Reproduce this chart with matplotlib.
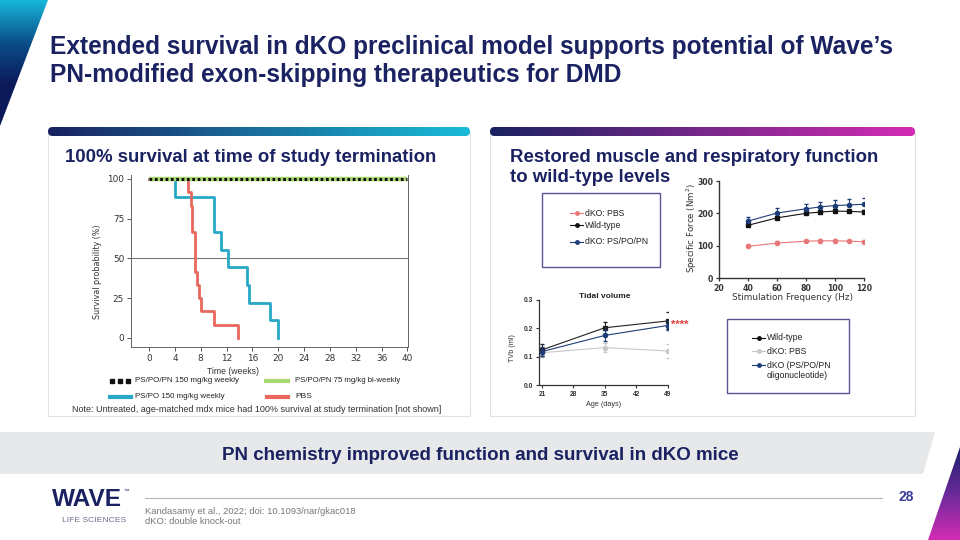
import numpy as np
import matplotlib
matplotlib.use('Agg')
import matplotlib.pyplot as plt
from matplotlib import font_manager as fm
from matplotlib.patches import Polygon, FancyBboxPatch, Rectangle
from matplotlib.colors import LinearSegmentedColormap

# ---------------- data ----------------
# Survival (Kaplan-Meier), time in weeks, survival in %
surv_pn150_t = [0, 40]
surv_pn150_s = [100, 100]
surv_pn75_t = [0, 40]
surv_pn75_s = [100, 100]
surv_pspo_t = [0, 4, 10, 11.2, 12.2, 15.1, 15.5, 18.8, 20]
surv_pspo_s = [100, 88.9, 66.7, 55.6, 44.4, 33.3, 22.2, 11.1, 0]
surv_pbs_t = [0, 6.1, 6.45, 6.7, 7.1, 7.4, 7.7, 8.0, 10.0, 13.8]
surv_pbs_s = [100, 91.7, 83.3, 66.7, 41.7, 33.3, 25.0, 16.7, 8.3, 0]
surv_xticks = list(range(0, 41, 4))
surv_yticks = [0, 25, 50, 75, 100]

# Specific force vs stimulation frequency
freq = [40, 60, 80, 90, 100, 110, 120]
force_pbs = [98, 108, 114, 115, 115, 114, 112]
force_pbs_err = [6, 5, 5, 5, 5, 5, 6]
force_wt = [163, 186, 200, 204, 207, 206, 204]
force_wt_err = [5, 5, 5, 5, 5, 5, 5]
force_pn = [176, 201, 214, 220, 224, 226, 228]
force_pn_err = [14, 14, 15, 15, 16, 17, 18]

# Tidal volume vs age
age = [21, 35, 49]
tv_wt = [0.124, 0.202, 0.226]
tv_wt_err = [0.020, 0.021, 0.030]
tv_pn = [0.118, 0.175, 0.210]
tv_pn_err = [0.015, 0.018, 0.015]
tv_pbs = [0.114, 0.132, 0.120]
tv_pbs_err = [0.015, 0.015, 0.025]

# ---------------- style ----------------
NAVY = '#1b2262'
TEAL = '#27a8c6'
RED = '#e8685e'
GREEN = '#a9d870'
DKNAVY = '#1d3d78'
FRED = '#e8777a'
LGRAY = '#c8c8c8'

def has_font(name):
    try:
        fm.findfont(fm.FontProperties(family=name), fallback_to_default=False)
        return True
    except Exception:
        return False

NARROW = 'Liberation Sans Narrow' if has_font('Liberation Sans Narrow') else 'Liberation Sans'
SANS = 'Liberation Sans'
VERD = 'DejaVu Sans'

W, H = 960, 540
fig = plt.figure(figsize=(9.6, 5.4), dpi=100)
bg = fig.add_axes([0, 0, 1, 1], zorder=0)
bg.axis('off')
renderer = fig.canvas.get_renderer()


def pax(x0, y0, x1, y1):
    a = fig.add_axes([x0 / W, 1 - y1 / H, (x1 - x0) / W, (y1 - y0) / H], zorder=2)
    a.set_facecolor('none')
    return a


def fit(x, y, s, w, ha='left', va='center', **kw):
    t = bg.text(x, y, s, ha=ha, va=va, **kw)
    bb = t.get_window_extent(renderer)
    t.set_fontsize(t.get_fontsize() * w / bb.width)
    return t


def grad_fill(patch, colors, vertical=False, extent=None):
    cmap = LinearSegmentedColormap.from_list('g', colors)
    g = np.linspace(0, 1, 256)
    img = g[:, None] if vertical else g[None, :]
    bg.add_patch(patch)
    patch.set_facecolor('none')
    patch.set_edgecolor('none')
    im = bg.imshow(img, cmap=cmap, extent=extent, origin='upper', aspect='auto', zorder=patch.get_zorder())
    im.set_clip_path(patch)

# decorative corners
grad_fill(Polygon([(0, 0), (48, 0), (0, 126)], closed=True), ['#17b8d9', '#0a4f8a', '#0c1a5a', '#0c1a5a'],
          vertical=True, extent=(0, 48, 126, 0))
grad_fill(Polygon([(960, 447), (928, 540), (960, 540)], closed=True), ['#1b1f6b', '#6a2a9a', '#d42cb4'],
          vertical=True, extent=(928, 960, 540, 447))

# title
ft = fit(50, 47, "Extended survival in dKO preclinical model supports potential of Wave\u2019s", 843,
         family=NARROW, weight='bold', color=NAVY, fontsize=16)
bg.text(50, 75, "PN-modified exon-skipping therapeutics for DMD", ha='left', va='center',
        family=NARROW, weight='bold', color=NAVY, fontsize=ft.get_fontsize())

# cards
for x0, x1, c1 in [(48, 470, '#19bcd9'), (490, 915, '#d42cb4')]:
    bg.add_patch(Rectangle((x0, 132), x1 - x0, 284, facecolor='white', edgecolor='#e2e2e2', lw=0.8, zorder=1))
    bar = FancyBboxPatch((x0, 127), x1 - x0, 9, boxstyle='round,pad=0,rounding_size=4.5', zorder=1.5)
    grad_fill(bar, ['#1a2260', c1], extent=(x0, x1, 136, 127))

# headings
fit(65, 158, "100% survival at time of study termination", 372, family=SANS, weight='bold', color=NAVY, fontsize=12)
hr = fit(510, 158, "Restored muscle and respiratory function", 368, family=SANS, weight='bold', color=NAVY, fontsize=12)
bg.text(510, 177, "to wild-type levels", ha='left', va='center', family=SANS, weight='bold', color=NAVY,
        fontsize=hr.get_fontsize())

# ---------------- survival chart ----------------
ax1 = pax(131, 175, 408, 347)
ax1.plot(surv_pn75_t, surv_pn75_s, color=GREEN, lw=3.2, solid_capstyle='butt', zorder=3)
ax1.plot(surv_pn150_t, surv_pn150_s, color='#111111', lw=2.2, ls=(0, (0.9, 0.85)),
         dash_capstyle='butt', zorder=4)
ax1.step(surv_pspo_t, surv_pspo_s, where='post', color=TEAL, lw=2.0, zorder=2)
ax1.step(surv_pbs_t, surv_pbs_s, where='post', color=RED, lw=2.0, zorder=2)
ax1.axhline(50, color='#7a7a7a', lw=0.8, zorder=1)
ax1.set_xlim(-2.8, 40.1)
ax1.set_ylim(-5.7, 102.5)
ax1.set_xticks(surv_xticks)
ax1.set_yticks(surv_yticks)
ax1.spines['top'].set_visible(False)
for s in ['left', 'bottom', 'right']:
    ax1.spines[s].set_linewidth(0.7)
    ax1.spines[s].set_color('#666666')
ax1.tick_params(length=3, width=0.7, color='#555555', labelsize=6.4, labelcolor='#333333', pad=2)
for lab in ax1.get_xticklabels() + ax1.get_yticklabels():
    lab.set_family(VERD)

bg.text(98, 272, "Survival probability (%)", rotation=90, ha='center', va='center', family=VERD,
        fontsize=5.8, color='#333333')
bg.text(233, 371, "Time (weeks)", ha='center', va='center', family=SANS, fontsize=6.2, color='#333333')

# survival legend
bg.plot([112, 120, 128], [380.5] * 3, 's', ms=2.6, color='#111111')
bg.plot([266, 288], [380.5, 380.5], color=GREEN, lw=3)
bg.plot([110, 131], [396.5, 396.5], color=TEAL, lw=3)
bg.plot([267, 288], [396.5, 396.5], color=RED, lw=3)
fit(135, 380.5, "PS/PO/PN 150 mg/kg weekly", 105, family=SANS, fontsize=6, color='#222222')
fit(295, 380.5, "PS/PO/PN 75 mg/kg bi-weekly", 107, family=SANS, fontsize=6, color='#222222')
fit(135, 396.5, "PS/PO 150 mg/kg weekly", 91, family=SANS, fontsize=6, color='#222222')
bg.text(295, 396.5, "PBS", ha='left', va='center', family=SANS, fontsize=6, color='#222222')
fit(72, 410, "Note: Untreated, age-matched mdx mice had 100% survival at study termination [not shown]", 366,
    family=SANS, fontsize=7, color='#333333')

# ---------------- force chart ----------------
ax2 = pax(719, 181, 864, 278)
ax2.errorbar(freq, force_pbs, yerr=[[0] * len(freq), force_pbs_err], color=FRED, marker='o', ms=3,
             lw=0.8, elinewidth=0.7, capsize=1.5, zorder=3)
ax2.errorbar(freq, force_wt, yerr=[[0] * len(freq), force_wt_err], color='#111111', marker='s', ms=3,
             lw=0.8, elinewidth=0.7, capsize=1.5, zorder=3)
ax2.errorbar(freq, force_pn, yerr=[[0] * len(freq), force_pn_err], color=DKNAVY, marker='o', ms=3,
             lw=0.8, elinewidth=0.7, capsize=1.5, zorder=4)
ax2.set_xlim(20, 120)
ax2.set_ylim(0, 300)
ax2.set_xticks([20, 40, 60, 80, 100, 120])
ax2.set_yticks([0, 100, 200, 300])
for s in ['top', 'right']:
    ax2.spines[s].set_visible(False)
for s in ['left', 'bottom']:
    ax2.spines[s].set_linewidth(1.0)
    ax2.spines[s].set_color('#333333')
ax2.tick_params(length=2.5, width=0.9, color='#333333', labelsize=5.6, labelcolor='#333333', pad=1.5)
for lab in ax2.get_xticklabels() + ax2.get_yticklabels():
    lab.set_family(VERD)
    lab.set_weight('bold')
bg.text(692, 228, "Specific Force (Nm$^2$)", rotation=90, ha='center', va='center', family=VERD,
        fontsize=6.2, color='#333333')
bg.text(792, 298, "Stimulation Frequency (Hz)", ha='center', va='center', family=VERD,
        fontsize=6.4, color='#333333')

# legend box 1
bg.add_patch(Rectangle((542, 193), 118, 74, facecolor='none', edgecolor='#5c5296', lw=1.0, zorder=2))
for yy, col, mk, lab in [(213, FRED, 'o', 'dKO: PBS'), (225, '#111111', 'o', 'Wild-type'),
                         (242, DKNAVY, 'o', 'dKO: PS/PO/PN')]:
    bg.plot([570, 583], [yy, yy], color=col, lw=0.8, zorder=3)
    bg.plot([576.5], [yy], marker=mk, ms=2.5, color=col, zorder=3)
    bg.text(585, yy, lab, ha='left', va='center', family=SANS, fontsize=6.2, color='#222222')

# ---------------- tidal volume chart ----------------
ax3 = pax(538.7, 300, 668, 385)
ax3.errorbar(age, tv_pbs, yerr=tv_pbs_err, color=LGRAY, marker='o', ms=3, lw=0.8, elinewidth=0.7,
             capsize=1.5, zorder=2)
ax3.errorbar(age, tv_wt, yerr=tv_wt_err, color='#222222', marker='s', ms=3, lw=0.8, elinewidth=0.7,
             capsize=1.5, zorder=3)
ax3.errorbar(age, tv_pn, yerr=tv_pn_err, color=DKNAVY, marker='o', ms=3, lw=0.8, elinewidth=0.7,
             capsize=1.5, zorder=4)
ax3.set_xlim(20.26, 49.1)
ax3.set_ylim(0, 0.3)
ax3.set_xticks([21, 28, 35, 42, 49])
ax3.set_yticks([0.0, 0.1, 0.2, 0.3])
ax3.set_yticklabels(['0.0', '0.1', '0.2', '0.3'])
for s in ['top', 'right']:
    ax3.spines[s].set_visible(False)
for s in ['left', 'bottom']:
    ax3.spines[s].set_linewidth(0.9)
    ax3.spines[s].set_color('#333333')
ax3.tick_params(length=2.5, width=0.8, color='#333333', labelsize=4.8, labelcolor='#333333', pad=1.5)
for lab in ax3.get_xticklabels() + ax3.get_yticklabels():
    lab.set_family(SANS)
    lab.set_weight('bold')
bg.text(605, 297, "Tidal volume", ha='center', va='center', family=SANS, weight='bold', fontsize=6,
        color='#222222')
bg.text(512, 348, "TVb (ml)", rotation=90, ha='center', va='center', family=SANS, fontsize=5.2,
        color='#333333')
bg.text(604, 404, "Age (days)", ha='center', va='center', family=SANS, fontsize=5.2, color='#333333')
bg.text(671, 325, "****", ha='left', va='center', family=SANS, weight='bold', fontsize=8, color='#e0403c')

# legend box 2
bg.add_patch(Rectangle((727, 319), 122, 74, facecolor='none', edgecolor='#5c5296', lw=1.0, zorder=2))
for yy, col, lab in [(338, '#111111', 'Wild-type'), (351, LGRAY, 'dKO: PBS'),
                     (365, DKNAVY, 'dKO (PS/PO/PN')]:
    bg.plot([752, 765], [yy, yy], color=col, lw=0.8, zorder=3)
    bg.plot([758.5], [yy], marker='o', ms=2.5, color=col, zorder=3)
    bg.text(767, yy, lab, ha='left', va='center', family=SANS, fontsize=6.2, color='#222222')
bg.text(767, 376, "oligonucleotide)", ha='left', va='center', family=SANS, fontsize=6.2, color='#222222')

# ---------------- banner ----------------
bg.add_patch(Polygon([(0, 432), (935, 432), (923, 474), (0, 474)], closed=True, facecolor='#e7e8ea',
                     edgecolor='none', zorder=1))
fit(222, 455, "PN chemistry improved function and survival in dKO mice", 516, family=NARROW, weight='bold',
    color=NAVY, fontsize=13, zorder=2)

# ---------------- footer ----------------
bg.plot([145, 882], [498, 498], color='#b5b5b5', lw=0.8)
bg.text(906, 497, "28", ha='center', va='center', family=NARROW, weight='bold', fontsize=10, color='#3b3d9a')
fit(145, 511, "Kandasamy et al., 2022; doi: 10.1093/nar/gkac018", 209, family=NARROW, fontsize=7,
    color='#777777')
bg.text(145, 522, "dKO: double knock-out", ha='left', va='center', family=NARROW, color='#777777',
        fontsize=bg.texts[-1].get_fontsize())
fit(52, 500, "WAVE", 70, family=SANS, weight='bold', fontsize=18, color=NAVY)
bg.text(123, 491, "\u2122", ha='left', va='center', family=SANS, fontsize=4, color=NAVY)
fit(62, 521, "LIFE SCIENCES", 65, family=SANS, fontsize=5, color='#6a6f8a')

bg.set_xlim(0, W)
bg.set_ylim(H, 0)

fig.savefig('out.png', dpi=100, facecolor='white')
